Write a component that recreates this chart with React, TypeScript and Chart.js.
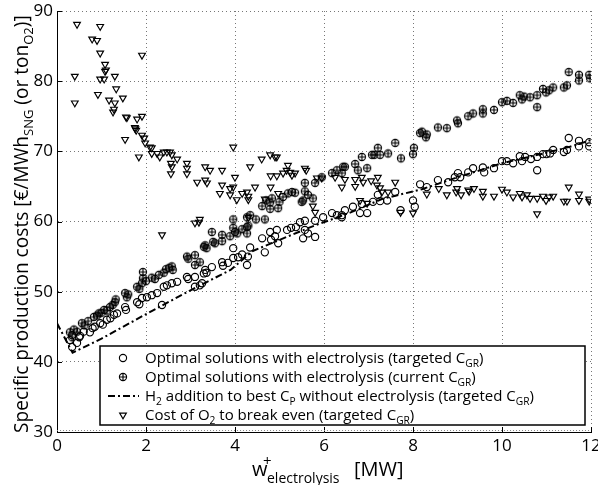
import React, { useEffect, useRef } from 'react';
import { Chart, registerables } from 'chart.js';
Chart.register(...registerables);

const FONT = '"Open Sans", "Noto Sans", "DejaVu Sans", sans-serif';

const xTicks = [0, 2, 4, 6, 8, 10, 12];
const yTicks = [30, 40, 50, 60, 70, 80, 90];

// Optimal solutions with electrolysis (targeted C_GR)
const targetedPoints = [
  [0.29, 43.1], [0.34, 42.1], [0.34, 43.8], [0.45, 42.7], [0.5, 43.5], [0.52, 43.7], [0.6, 44.3],
  [0.74, 44.2], [0.8, 44.8], [0.85, 45.0], [0.97, 45.5], [1.03, 45.3], [1.12, 46.0], [1.2, 46.2],
  [1.28, 46.7], [1.35, 46.9], [1.53, 47.8], [1.55, 47.4], [1.8, 48.5], [1.85, 48.2], [1.91, 49.1],
  [2.02, 49.2], [2.13, 49.5], [2.25, 49.8], [2.36, 48.1], [2.4, 50.7], [2.47, 50.9], [2.58, 51.2],
  [2.7, 51.4], [2.92, 52.1], [2.95, 51.8], [3.1, 52.1], [3.1, 50.7], [3.21, 50.9], [3.26, 51.2],
  [3.3, 52.6], [3.33, 53.1], [3.36, 52.7], [3.48, 53.5], [3.71, 54.2], [3.73, 53.7], [3.84, 54.1],
  [3.96, 54.8], [3.96, 56.2], [4.07, 54.9], [4.16, 55.3], [4.27, 53.8], [4.29, 55.0], [4.34, 56.3],
  [4.61, 57.6], [4.67, 55.6], [4.79, 58.5], [4.81, 57.4], [4.9, 57.9], [4.94, 58.8], [4.97, 56.9],
  [5.17, 58.8], [5.26, 59.1], [5.37, 59.2], [5.46, 59.9], [5.53, 57.6], [5.57, 60.1], [5.57, 58.8],
  [5.64, 58.3], [5.8, 57.8], [5.8, 60.1], [5.98, 60.6], [6.18, 61.2], [6.29, 60.9], [6.4, 60.6],
  [6.4, 60.9], [6.47, 61.6], [6.65, 62.1], [6.81, 61.2], [6.85, 62.5], [6.97, 61.2], [7.1, 62.8],
  [7.21, 63.8], [7.26, 62.9], [7.42, 63.0], [7.6, 64.2], [7.72, 61.6], [8.0, 63.0], [8.04, 62.1],
  [8.16, 65.3], [8.31, 64.9], [8.56, 65.9], [8.79, 65.6], [8.94, 66.3], [9.01, 66.9], [9.06, 66.3],
  [9.24, 67.0], [9.35, 67.6], [9.57, 67.7], [9.6, 67.0], [9.82, 67.6], [10.0, 68.6], [10.11, 68.6],
  [10.25, 68.3], [10.4, 69.3], [10.45, 68.6], [10.52, 69.2], [10.65, 68.9], [10.79, 69.2],
  [10.79, 67.3], [10.92, 69.6], [11.0, 69.6], [11.08, 69.7], [11.15, 70.2], [11.39, 69.9],
  [11.46, 70.2], [11.5, 71.9], [11.73, 71.5], [11.73, 70.7], [11.96, 71.3], [11.96, 70.7],
];

// Optimal solutions with electrolysis (current C_GR)
const currentPoints = [
  [0.29, 44.2], [0.34, 43.5], [0.38, 44.6], [0.45, 44.3], [0.56, 45.5], [0.62, 45.2], [0.7, 45.8],
  [0.83, 46.4], [0.9, 46.6], [0.94, 46.9], [1.0, 47.0], [1.06, 47.4], [1.12, 47.3], [1.19, 47.8],
  [1.25, 48.1], [1.3, 48.5], [1.32, 48.9], [1.53, 49.8], [1.57, 49.2], [1.6, 49.6], [1.8, 50.7],
  [1.85, 50.4], [1.91, 51.2], [1.93, 51.9], [1.93, 52.8], [2.0, 51.5], [2.13, 52.0], [2.2, 51.8],
  [2.29, 52.4], [2.4, 52.7], [2.45, 53.2], [2.52, 53.4], [2.58, 53.6], [2.6, 53.1], [2.92, 55.0],
  [2.95, 54.7], [3.1, 53.8], [3.1, 55.2], [3.21, 54.2], [3.3, 56.4], [3.33, 56.6], [3.36, 56.2],
  [3.48, 58.5], [3.51, 57.1], [3.55, 56.9], [3.71, 58.1], [3.71, 57.2], [3.89, 57.9], [3.96, 59.1],
  [4.0, 58.5], [4.05, 58.3], [4.16, 58.9], [4.27, 59.2], [4.3, 59.4], [4.27, 58.3], [3.96, 60.3],
  [4.27, 60.6], [4.34, 60.9], [4.47, 60.3], [4.67, 60.3], [4.61, 62.2], [4.7, 63.0], [4.79, 61.8],
  [4.79, 62.7], [4.83, 63.3], [4.97, 61.9], [5.0, 62.8], [5.08, 63.5], [5.19, 64.0], [5.28, 64.2],
  [5.35, 64.1], [5.5, 62.8], [5.53, 63.0], [5.57, 65.5], [5.57, 64.3], [5.64, 63.8], [5.75, 63.3],
  [5.8, 65.5], [5.95, 66.3], [6.18, 66.9], [6.29, 67.3], [6.4, 66.9], [6.43, 67.8], [6.47, 67.8],
  [6.7, 68.2], [6.76, 67.3], [6.85, 69.2], [6.97, 67.6], [7.08, 69.5], [7.13, 69.5], [7.21, 70.5],
  [7.26, 69.5], [7.44, 69.7], [7.6, 71.2], [7.73, 69.0], [8.02, 70.5], [8.0, 69.6], [8.16, 72.6],
  [8.2, 72.8], [8.29, 72.0], [8.31, 72.4], [8.56, 73.4], [8.76, 73.3], [8.99, 74.4], [9.01, 74.0],
  [9.24, 75.0], [9.35, 75.4], [9.57, 76.0], [9.57, 75.4], [9.82, 75.9], [10.0, 77.0], [10.11, 77.2],
  [10.25, 76.9], [10.4, 78.0], [10.45, 77.4], [10.5, 77.8], [10.63, 77.7], [10.79, 78.0],
  [10.79, 76.3], [10.92, 78.9], [10.99, 78.4], [11.06, 78.7], [11.15, 79.1], [11.39, 79.1],
  [11.46, 79.4], [11.5, 81.3], [11.73, 80.9], [11.73, 80.1], [11.96, 80.9], [11.98, 80.4],
];

// H2 addition to best C_P without electrolysis (targeted C_GR)
const h2AdditionPoints = [
  [0.0, 45.5], [0.35, 41.3], [1.0, 43.3], [2.0, 46.8], [3.0, 50.2], [3.9, 53.1], [4.4, 55.8],
  [5.2, 57.9], [5.7, 59.2], [6.6, 61.3], [7.3, 63.2], [8.2, 64.6], [9.0, 66.3], [10.0, 68.3],
  [11.0, 69.8], [11.5, 70.6], [12.0, 71.6],
];

// Cost of O2 to break even (targeted C_GR)
const o2Points = [
  [0.45, 88.1], [0.97, 87.8], [0.79, 86.0], [0.9, 85.8], [0.97, 84.0], [1.91, 83.7], [1.08, 82.4],
  [1.08, 81.4], [1.1, 81.6], [0.4, 80.7], [0.97, 80.3], [1.06, 80.3], [1.3, 80.7], [1.33, 78.9],
  [0.92, 78.1], [0.4, 76.9], [1.17, 77.3], [1.3, 76.9], [1.48, 77.6], [1.28, 76.0], [1.26, 75.6],
  [1.55, 74.9], [1.57, 74.8], [1.8, 74.6], [1.91, 75.0], [1.75, 73.4], [1.78, 73.0], [1.76, 73.2],
  [1.91, 72.3], [1.96, 71.9], [1.53, 71.7], [1.98, 71.2], [2.09, 70.6], [1.84, 69.2], [2.13, 70.5],
  [2.13, 69.7], [2.25, 69.7], [2.31, 69.2], [2.4, 69.9], [2.47, 69.9], [2.54, 69.9], [2.58, 69.5],
  [2.56, 68.3], [2.58, 67.8], [2.56, 66.8], [2.7, 68.9], [2.92, 68.3], [2.92, 67.6], [2.92, 66.8],
  [3.15, 65.6], [3.33, 67.8], [3.44, 67.3], [3.71, 67.3], [3.33, 65.9], [3.37, 65.5], [3.71, 65.2],
  [3.66, 64.0], [3.89, 64.7], [3.96, 64.9], [3.96, 70.6], [4.0, 66.3], [3.89, 63.8], [4.04, 63.1],
  [4.16, 64.0], [4.27, 64.2], [4.3, 63.1], [4.3, 63.6], [4.34, 67.8], [4.45, 64.9], [4.6, 68.9],
  [4.79, 69.5], [4.9, 69.2], [4.94, 69.2], [4.8, 66.5], [4.94, 66.5], [4.8, 64.9], [4.67, 63.2],
  [4.97, 64.0], [5.08, 66.9], [5.16, 67.3], [5.19, 68.0], [5.24, 67.0], [5.28, 66.6], [5.35, 66.9],
  [5.57, 67.6], [5.6, 67.3], [5.75, 62.2], [5.8, 61.3], [5.84, 66.2], [5.95, 66.2], [6.25, 66.3],
  [6.4, 64.9], [6.47, 66.0], [6.7, 66.0], [6.7, 65.0], [6.85, 66.3], [6.88, 65.6], [7.06, 65.8],
  [7.19, 65.2], [7.21, 66.3], [7.26, 64.8], [7.3, 64.2], [7.44, 64.2], [7.6, 65.6], [8.0, 61.2],
  [6.81, 63.0], [6.97, 62.6], [7.72, 61.3], [8.31, 63.9], [8.58, 64.7], [8.76, 63.8], [8.99, 64.7],
  [8.97, 64.2], [9.08, 63.8], [9.24, 64.5], [9.26, 64.3], [9.37, 64.7], [9.57, 64.3], [9.57, 63.6],
  [9.82, 63.6], [10.0, 64.6], [10.11, 64.2], [10.25, 63.5], [10.4, 64.0], [10.45, 63.5],
  [10.56, 63.8], [10.63, 63.3], [10.79, 63.3], [10.79, 61.1], [10.92, 63.6], [10.99, 63.0],
  [11.06, 63.5], [11.15, 63.6], [11.39, 62.9], [11.46, 62.9], [11.5, 64.9], [11.73, 63.9],
  [11.73, 63.0], [11.96, 63.2], [11.96, 62.9], [3.1, 59.8], [3.19, 59.9], [3.21, 60.3], [2.36, 58.1],
  [4.3, 60.6],
];

type Part = { t: string; sub?: boolean; sup?: boolean };

const legendRows: { marker: string; parts: Part[] }[] = [
  { marker: 'circle', parts: [{ t: 'Optimal solutions with electrolysis (targeted C' }, { t: 'GR', sub: true }, { t: ')' }] },
  { marker: 'circleplus', parts: [{ t: 'Optimal solutions with electrolysis (current C' }, { t: 'GR', sub: true }, { t: ')' }] },
  { marker: 'dashdot', parts: [{ t: 'H' }, { t: '2', sub: true }, { t: ' addition to best C' }, { t: 'P', sub: true }, { t: ' without electrolysis (targeted C' }, { t: 'GR', sub: true }, { t: ')' }] },
  { marker: 'triangle', parts: [{ t: 'Cost of O' }, { t: '2', sub: true }, { t: ' to break even (targeted C' }, { t: 'GR', sub: true }, { t: ')' }] },
];

const yTitleParts: Part[] = [
  { t: 'Specific production costs [€/MWh' }, { t: 'SNG', sub: true }, { t: ' (or ton' }, { t: 'O2', sub: true }, { t: ')]' },
];

function richWidth(ctx: CanvasRenderingContext2D, parts: Part[], size: number) {
  let w = 0;
  for (const p of parts) {
    const s = p.sub || p.sup ? size * 0.68 : size;
    ctx.font = `${s}px ${FONT}`;
    w += ctx.measureText(p.t).width;
  }
  return w;
}

function drawRich(ctx: CanvasRenderingContext2D, x: number, y: number, parts: Part[], size: number) {
  let cx = x;
  for (const p of parts) {
    const s = p.sub || p.sup ? size * 0.68 : size;
    ctx.font = `${s}px ${FONT}`;
    const dy = p.sub ? size * 0.28 : p.sup ? -size * 0.45 : 0;
    ctx.fillText(p.t, cx, y + dy);
    cx += ctx.measureText(p.t).width;
  }
  return cx;
}

function makeCirclePlus(r: number) {
  const size = Math.ceil(2 * r + 4);
  const c = document.createElement('canvas');
  c.width = size;
  c.height = size;
  const g = c.getContext('2d')!;
  const m = size / 2;
  g.strokeStyle = '#000';
  g.lineWidth = 1.15;
  g.beginPath();
  g.arc(m, m, r, 0, Math.PI * 2);
  g.stroke();
  g.beginPath();
  g.moveTo(m - r, m);
  g.lineTo(m + r, m);
  g.moveTo(m, m - r);
  g.lineTo(m, m + r);
  g.stroke();
  return c;
}

export default function App() {
  const ref = useRef<HTMLCanvasElement | null>(null);

  useEffect(() => {
    document.body.style.margin = '0';
    const canvas = ref.current!;
    const circlePlus = makeCirclePlus(3.6);

    const decor = {
      id: 'decor',
      afterDraw(chart: any) {
        const ctx: CanvasRenderingContext2D = chart.ctx;
        const xs = chart.scales.x;
        const ys = chart.scales.y;
        const area = chart.chartArea;
        ctx.save();
        // inward major ticks
        ctx.strokeStyle = '#000';
        ctx.lineWidth = 1;
        ctx.beginPath();
        for (const v of xTicks) {
          const px = Math.round(xs.getPixelForValue(v)) + 0.5;
          ctx.moveTo(px, area.bottom);
          ctx.lineTo(px, area.bottom - 5);
        }
        for (const v of yTicks) {
          const py = Math.round(ys.getPixelForValue(v)) + 0.5;
          ctx.moveTo(area.left, py);
          ctx.lineTo(area.left + 5, py);
        }
        ctx.stroke();
        // minor tick texture on bottom axis
        ctx.strokeStyle = '#888';
        ctx.setLineDash([1, 2]);
        ctx.beginPath();
        ctx.moveTo(area.left, area.bottom - 1.5);
        ctx.lineTo(area.right, area.bottom - 1.5);
        ctx.stroke();
        ctx.setLineDash([]);

        // legend box
        const lx = 100, ly = 346, lw = 485, lh = 79;
        ctx.fillStyle = '#fff';
        ctx.fillRect(lx, ly, lw, lh);
        ctx.strokeStyle = '#000';
        ctx.lineWidth = 1.5;
        ctx.strokeRect(lx, ly, lw, lh);
        ctx.lineWidth = 1.15;
        const rowY = [358, 377, 396, 415];
        const mx = 123;
        const legendSize = 14 * 339 / richWidth(ctx, legendRows[0].parts, 14);
        legendRows.forEach((row, i) => {
          const y = rowY[i];
          ctx.strokeStyle = '#000';
          if (row.marker === 'circle') {
            ctx.beginPath();
            ctx.arc(mx, y, 3.6, 0, Math.PI * 2);
            ctx.stroke();
          } else if (row.marker === 'circleplus') {
            ctx.drawImage(circlePlus, mx - circlePlus.width / 2, y - circlePlus.height / 2);
          } else if (row.marker === 'dashdot') {
            ctx.lineWidth = 2;
            ctx.setLineDash([7, 3, 2, 3]);
            ctx.beginPath();
            ctx.moveTo(108, y);
            ctx.lineTo(139, y);
            ctx.stroke();
            ctx.setLineDash([]);
            ctx.lineWidth = 1.15;
          } else {
            const r = 3.9;
            ctx.beginPath();
            ctx.moveTo(mx - r * 0.866, y - r * 0.5);
            ctx.lineTo(mx + r * 0.866, y - r * 0.5);
            ctx.lineTo(mx, y + r);
            ctx.closePath();
            ctx.stroke();
          }
          ctx.fillStyle = '#000';
          ctx.textBaseline = 'alphabetic';
          ctx.textAlign = 'left';
          drawRich(ctx, 145, y + 5, row.parts, legendSize);
        });

        // y title
        const ySize = 20 * 418 / richWidth(ctx, yTitleParts, 20);
        ctx.save();
        ctx.translate(28, 433);
        ctx.rotate(-Math.PI / 2);
        ctx.fillStyle = '#000';
        drawRich(ctx, 0, 0, yTitleParts, ySize);
        ctx.restore();

        // x title
        ctx.fillStyle = '#000';
        ctx.font = `20px ${FONT}`;
        ctx.fillText('w', 252, 476);
        ctx.font = `15px ${FONT}`;
        ctx.fillText('+', 263, 466);
        ctx.font = `14px ${FONT}`;
        ctx.fillText('electrolysis', 267, 483);
        ctx.font = `20px ${FONT}`;
        ctx.fillText('[MW]', 354, 476);
        ctx.restore();
      },
    };

    const chart = new Chart(canvas, {
      type: 'scatter',
      data: {
        datasets: [
          {
            label: 'h2',
            data: h2AdditionPoints.map(([x, y]) => ({ x, y })),
            showLine: true,
            borderColor: '#000',
            borderWidth: 2,
            borderDash: [7, 3, 2, 3],
            pointRadius: 0,
            fill: false,
            tension: 0,
          },
          {
            label: 'targeted',
            data: targetedPoints.map(([x, y]) => ({ x, y })),
            pointStyle: 'circle',
            pointRadius: 3.6,
            borderColor: '#000',
            backgroundColor: 'rgba(0,0,0,0)',
            borderWidth: 1.15,
          },
          {
            label: 'current',
            data: currentPoints.map(([x, y]) => ({ x, y })),
            pointStyle: circlePlus,
            pointRadius: 3.6,
            borderColor: '#000',
          },
          {
            label: 'o2',
            data: o2Points.map(([x, y]) => ({ x, y })),
            pointStyle: 'triangle',
            pointRotation: 180,
            pointRadius: 3.9,
            borderColor: '#000',
            backgroundColor: 'rgba(0,0,0,0)',
            borderWidth: 1.15,
          },
        ],
      },
      options: {
        responsive: false,
        animation: false,
        layout: { padding: { left: 0, top: 11, right: 7, bottom: 0 } },
        plugins: { legend: { display: false }, tooltip: { enabled: false } },
        scales: {
          x: {
            type: 'linear',
            min: 0,
            max: 12,
            afterBuildTicks: (s: any) => { s.ticks = xTicks.map((v) => ({ value: v })); },
            ticks: { font: { family: FONT, size: 17 }, color: '#000', padding: 4, maxRotation: 0, autoSkip: false },
            grid: { color: '#777', lineWidth: 1, drawTicks: false },
            border: { display: true, color: '#000', width: 1, dash: [1, 3] },
            afterFit: (s: any) => { s.height = 53; s.paddingLeft = 0; s.paddingRight = 0; },
          },
          y: {
            type: 'linear',
            min: 30,
            max: 90,
            afterBuildTicks: (s: any) => { s.ticks = yTicks.map((v) => ({ value: v })); },
            ticks: { font: { family: FONT, size: 17 }, color: '#000', padding: 4, autoSkip: false },
            grid: { color: '#777', lineWidth: 1, drawTicks: false },
            border: { display: true, color: '#000', width: 1, dash: [1, 3] },
            afterFit: (s: any) => { s.width = 57; s.paddingTop = 0; s.paddingBottom = 0; },
          },
        },
      },
      plugins: [decor],
    } as any);

    return () => chart.destroy();
  }, []);

  return (
    <div style={{ position: 'absolute', left: 0, top: 0, width: 598, height: 485 }}>
      <canvas ref={ref} width={598} height={485} style={{ width: 598, height: 485, display: 'block' }} />
    </div>
  );
}
